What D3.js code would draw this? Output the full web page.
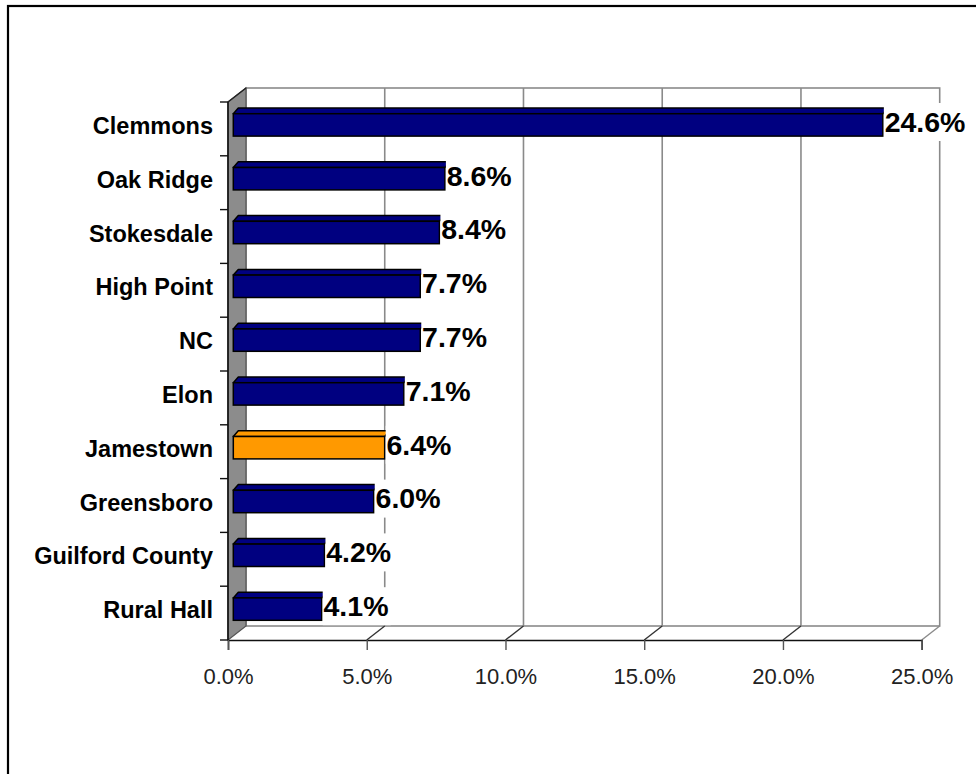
<!DOCTYPE html>
<html>
<head>
<meta charset="utf-8">
<script src="https://cdn.jsdelivr.net/npm/d3@7"></script>
<style>
  html, body { margin: 0; padding: 0; background: #fff; }
  svg { display: block; }
</style>
</head>
<body>
<svg id="chart" width="976" height="774"></svg>
<script>
// Share of residents, by place
const categories = ["Clemmons", "Oak Ridge", "Stokesdale", "High Point", "NC", "Elon",
                    "Jamestown", "Greensboro", "Guilford County", "Rural Hall"];
const values = [24.6, 8.6, 8.4, 7.7, 7.7, 7.1, 6.4, 6.0, 4.2, 4.1];
const highlighted = ["Jamestown"];
const tickValues = [0, 5, 10, 15, 20, 25];

const svg = d3.select("#chart");

// frame around the chart area
svg.append("rect")
  .attr("x", 8).attr("y", 6).attr("width", 1000).attr("height", 1000)
  .attr("fill", "none").attr("stroke", "#000").attr("stroke-width", 2.2);

// 3-D plot box: front plane plus a depth offset to the back wall
const front = { left: 228, right: 921.7, top: 102, bottom: 640 };
const depth = { dx: 18, dy: -14 };

const x = d3.scaleLinear().domain([0, 25]).range([front.left, front.right]);
const y = d3.scaleBand().domain(categories).range([front.top, front.bottom]);
// bars sit inside the box, so their length scale is set back from the front axis
const xBar = d3.scaleLinear().domain([0, 25]).range([209.5, 893.8]);

const back = {
  left: front.left + depth.dx, right: front.right + depth.dx,
  top: front.top + depth.dy, bottom: front.bottom + depth.dy
};

const gridColor = "#8a8a8a";

// back wall
svg.append("rect")
  .attr("x", back.left).attr("y", back.top)
  .attr("width", back.right - back.left).attr("height", back.bottom - back.top)
  .attr("fill", "#fff").attr("stroke", gridColor).attr("stroke-width", 1.6);

// vertical gridlines on the back wall
svg.append("g").selectAll("line")
  .data(tickValues.filter(t => t > 0 && t < 25))
  .join("line")
  .attr("x1", d => x(d) + depth.dx).attr("x2", d => x(d) + depth.dx)
  .attr("y1", back.top).attr("y2", back.bottom)
  .attr("stroke", gridColor).attr("stroke-width", 1.6);

// floor: receding lines from each tick to the back wall
svg.append("g").selectAll("line")
  .data(tickValues.filter(t => t > 0))
  .join("line")
  .attr("x1", d => x(d)).attr("y1", front.bottom)
  .attr("x2", d => x(d) + depth.dx).attr("y2", back.bottom)
  .attr("stroke", d => d === 25 ? gridColor : "#333").attr("stroke-width", 1.4);

// left side wall
svg.append("path")
  .attr("d", `M${front.left},${front.top} L${back.left},${back.top} L${back.left},${back.bottom} L${front.left},${front.bottom} Z`)
  .attr("fill", "#8c8c8c").attr("stroke", "#555").attr("stroke-width", 1.2);
svg.append("line")
  .attr("x1", front.left).attr("y1", front.top)
  .attr("x2", back.left).attr("y2", back.top)
  .attr("stroke", "#222").attr("stroke-width", 1.4);

// category axis: boundary ticks and labels
const catAxis = svg.append("g");
catAxis.append("line")
  .attr("x1", front.left).attr("x2", front.left)
  .attr("y1", front.top).attr("y2", front.bottom)
  .attr("stroke", "#111").attr("stroke-width", 1.6);
catAxis.selectAll("line.bound")
  .data(d3.range(categories.length + 1))
  .join("line").attr("class", "bound")
  .attr("x1", front.left - 8).attr("x2", front.left)
  .attr("y1", i => front.top + i * y.step()).attr("y2", i => front.top + i * y.step())
  .attr("stroke", "#111").attr("stroke-width", 1.4);
catAxis.selectAll("text")
  .data(categories)
  .join("text")
  .attr("x", 213)
  .attr("y", d => y(d) + 32)
  .attr("text-anchor", "end")
  .attr("font-family", "'Liberation Sans', Arial, sans-serif")
  .attr("font-weight", "bold")
  .attr("font-size", "23.5px")
  .attr("fill", "#000")
  .text(d => d);

// value axis
const xAxis = d3.axisBottom(x)
  .tickValues(tickValues)
  .tickSize(10)
  .tickFormat(d => d3.format(".1f")(d) + "%");
const gx = svg.append("g")
  .attr("transform", `translate(0,${front.bottom})`)
  .call(xAxis);
gx.select(".domain").attr("stroke", "#111").attr("stroke-width", 1.6);
gx.selectAll(".tick line").attr("stroke", "#555").attr("stroke-width", 1.4);
gx.selectAll(".tick text")
  .attr("y", 44).attr("dy", 0)
  .attr("font-family", "'Liberation Sans', Arial, sans-serif")
  .attr("font-size", "22px")
  .attr("fill", "#222");

// bars: front face plus a slanted top face
const barStart = front.left + 5.3;
const topSkew = { dx: 5, dy: -5.7 };
const rows = categories.map((c, i) => ({ name: c, value: values[i] }));
const fillOf = d => highlighted.includes(d.name) ? "#ff9900" : "#000080";

const bars = svg.append("g").selectAll("g")
  .data(rows)
  .join("g");

bars.append("path")
  .attr("d", d => {
    const y0 = y(d.name) + 11.7;
    const x1 = xBar(d.value);
    return `M${barStart},${y0} L${barStart + topSkew.dx},${y0 + topSkew.dy} L${x1 + topSkew.dx},${y0 + topSkew.dy} L${x1},${y0} Z`;
  })
  .attr("fill", fillOf)
  .attr("stroke", "#000").attr("stroke-width", 1.5).attr("stroke-linejoin", "round");

bars.append("rect")
  .attr("x", barStart)
  .attr("y", d => y(d.name) + 11.7)
  .attr("width", d => xBar(d.value) - barStart)
  .attr("height", 22.4)
  .attr("fill", fillOf)
  .attr("stroke", "#000").attr("stroke-width", 1.5);

// value labels on a white backing
const labels = svg.append("g").selectAll("g")
  .data(rows)
  .join("g");
const boxes = labels.append("rect").attr("fill", "#fff");
const texts = labels.append("text")
  .attr("x", d => xBar(d.value) + 1.8)
  .attr("y", d => y(d.name) + 29.8)
  .attr("font-family", "'Liberation Sans', Arial, sans-serif")
  .attr("font-weight", "bold")
  .attr("font-size", "28.5px")
  .attr("fill", "#000")
  .text(d => d3.format(".1f")(d.value) + "%");
texts.each(function(d) {
  const w = this.getComputedTextLength();
  d3.select(this.parentNode).select("rect")
    .attr("x", xBar(d.value) + 1)
    .attr("y", y(d.name) + 1)
    .attr("width", w + 3)
    .attr("height", 38);
});
</script>
</body>
</html>
